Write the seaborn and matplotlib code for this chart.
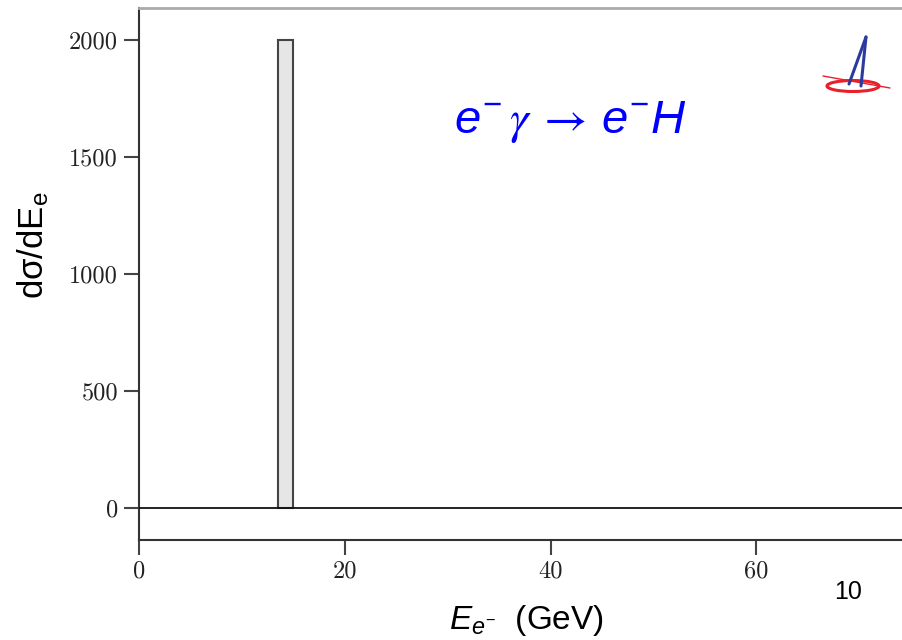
import matplotlib
matplotlib.use("Agg")
import matplotlib.pyplot as plt
from matplotlib.patches import Ellipse
from matplotlib.lines import Line2D
import seaborn as sns
import pandas as pd

# ---- data ----
bin_edges = [13.5, 15.0]
bin_centers = [14.25]
bin_heights = [2000]
x_ticks = [0, 20, 40, 60]
y_ticks = [0, 500, 1000, 1500, 2000]

sns.set_theme(style="white")
plt.rcParams['font.family'] = ['Liberation Sans', 'DejaVu Sans']
plt.rcParams['mathtext.fontset'] = 'custom'
plt.rcParams['mathtext.rm'] = 'Liberation Sans'
plt.rcParams['mathtext.it'] = 'Liberation Sans:italic'
plt.rcParams['mathtext.bf'] = 'Liberation Sans:bold'
plt.rcParams['mathtext.sf'] = 'STIXGeneral:italic'
plt.rcParams['mathtext.cal'] = 'STIXGeneral'

W, H = 902, 640
fig = plt.figure(figsize=(W / 100, H / 100), dpi=100)
ax = fig.add_axes([139 / W, 1 - 540 / H, 1 - 139 / W, (540 - 8) / H])

df = pd.DataFrame({"E": bin_centers, "w": bin_heights})
sns.histplot(data=df, x="E", weights="w", bins=bin_edges, ax=ax,
             color="#e6e6e6", edgecolor="#444444", linewidth=1.5, alpha=1.0)

ax.axhline(0, color="#111111", lw=1.3, zorder=3)

ax.set_xlim(0, (902 - 139) / 10.29)
ax.set_ylim(-137, 2137)
ax.set_xticks(x_ticks)
ax.set_yticks(y_ticks)
ax.set_xlabel("")
ax.set_ylabel("")

for lbl in ax.get_xticklabels() + ax.get_yticklabels():
    lbl.set_fontfamily('cmr10')
    lbl.set_fontsize(17.5)
    lbl.set_color('#222222')

ax.tick_params(axis='both', direction='out', length=11, width=1.5,
               color='#444444', bottom=True, left=True, pad=4)

for s in ['left', 'bottom']:
    ax.spines[s].set_color('#333333')
    ax.spines[s].set_linewidth(1.5)
ax.spines['top'].set_color('#aaaaaa')
ax.spines['top'].set_linewidth(2)
ax.spines['right'].set_visible(False)

# labels
fig.text(33 / W, 1 - 245 / H, r"dσ/dE$_\mathregular{e}$", rotation=90,
         ha='center', va='center', fontsize=25, color='black')
fig.text(526 / W, 1 - 629 / H, r"$\mathit{E}_{\mathit{e}^{-}}$  (GeV)",
         ha='center', va='baseline', fontsize=24, color='black')
fig.text(848 / W, 1 - 592 / H, "10", ha='center', va='center', fontsize=18,
         color='black')

# process label
fig.text(570 / W, 1 - 122 / H,
         r"$\mathit{e}^{-}\,\mathsf{\gamma}\,\mathcal{\rightarrow}\,\mathit{e}^{-}\mathit{H}$",
         ha='center', va='center', fontsize=34, color='#0000ff')

# small logo decoration
tf = fig.transFigure
def fx(x): return x / W
def fy(y): return 1 - y / H
fig.add_artist(Ellipse((fx(853), fy(86)), 52 / W, 11 / H, fill=False,
                       edgecolor='#e8202a', lw=2.2, transform=tf))
fig.add_artist(Line2D([fx(823), fx(890)], [fy(76), fy(88)], color='#e8202a',
                      lw=1.0, transform=tf))
fig.add_artist(Line2D([fx(849), fx(866)], [fy(84), fy(37)], color='#2b3a9e',
                      lw=2.2, transform=tf))
fig.add_artist(Line2D([fx(861), fx(866)], [fy(86), fy(37)], color='#2b3a9e',
                      lw=2.2, transform=tf))

fig.savefig("out.png", dpi=100)
